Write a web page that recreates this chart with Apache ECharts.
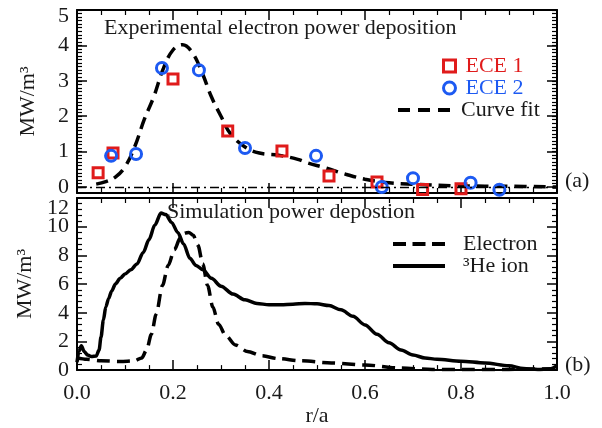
<!DOCTYPE html>
<html>
<head>
<meta charset="utf-8">
<script src="https://cdn.jsdelivr.net/npm/echarts@6/dist/echarts.min.js"></script>
<style>
  html, body { margin: 0; padding: 0; background: #fff; }
  #chart { width: 602px; height: 428px; }
</style>
</head>
<body>
<div id="chart"></div>
<script>
// (a) Measured electron power deposition, MW/m^3 vs r/a
const ece1R = [0.044, 0.075, 0.200, 0.314, 0.427, 0.525, 0.625, 0.720, 0.800];
const ece1P = [0.40, 0.96, 3.05, 1.58, 1.02, 0.31, 0.14, -0.07, -0.05];

const ece2R = [0.071, 0.123, 0.177, 0.254, 0.350, 0.498, 0.635, 0.700, 0.820, 0.880];
const ece2P = [0.88, 0.93, 3.36, 3.30, 1.10, 0.88, 0.00, 0.25, 0.12, -0.08];

const fitR = [0.04, 0.06, 0.08, 0.10, 0.12, 0.14, 0.16, 0.18, 0.20, 0.22, 0.24, 0.26, 0.28, 0.30,
              0.32, 0.35, 0.38, 0.42, 0.46, 0.48, 0.52, 0.56, 0.60, 0.65, 0.70, 0.80, 0.90, 1.00];
const fitP = [0.08, 0.15, 0.28, 0.57, 1.13, 1.90, 2.55, 3.35, 3.87, 4.02, 3.80, 3.25, 2.55, 2.00,
              1.50, 1.13, 0.96, 0.90, 0.78, 0.68, 0.53, 0.36, 0.22, 0.12, 0.08, 0.03, 0.02, 0.00];

// (b) Simulated power deposition
const elecR = [0.000, 0.020, 0.050, 0.090, 0.120, 0.135, 0.145, 0.155, 0.165, 0.178, 0.190, 0.203,
               0.215, 0.225, 0.233, 0.242, 0.252, 0.262, 0.272, 0.283, 0.295, 0.310, 0.330, 0.355,
               0.385, 0.420, 0.465, 0.530, 0.600, 0.670, 0.740, 0.820, 0.900, 1.000];
const elecP = [0.85, 0.75, 0.65, 0.60, 0.65, 0.85, 1.40, 2.50, 3.90, 5.90, 7.30, 8.40,
               9.20, 9.55, 9.60, 9.40, 8.70, 7.40, 5.90, 4.40, 3.20, 2.40, 1.75, 1.30,
               1.00, 0.80, 0.65, 0.50, 0.36, 0.15, 0.05, 0.05, 0.05, 0.10];

const ionR = [0.000, 0.004, 0.009, 0.015, 0.022, 0.030, 0.040, 0.046, 0.050, 0.055, 0.060, 0.066,
              0.072, 0.080, 0.090, 0.100, 0.112, 0.125, 0.138, 0.150, 0.162, 0.175, 0.185, 0.197,
              0.210, 0.222, 0.235, 0.248, 0.262, 0.280, 0.300, 0.325, 0.350, 0.375, 0.400, 0.425,
              0.450, 0.475, 0.500, 0.525, 0.550, 0.575, 0.600, 0.625, 0.650, 0.675, 0.700, 0.725,
              0.750, 0.800, 0.850, 0.900, 0.930, 0.960, 0.985, 1.000];
const ionP = [0.55, 1.30, 1.70, 1.30, 1.05, 0.95, 0.98, 1.40, 2.30, 3.50, 4.40, 5.00,
              5.50, 6.00, 6.40, 6.70, 7.00, 7.40, 8.20, 9.10, 10.10, 10.95, 10.85, 10.30,
              9.60, 8.80, 7.80, 7.30, 7.00, 6.40, 5.85, 5.30, 4.90, 4.65, 4.55, 4.55,
              4.60, 4.65, 4.62, 4.50, 4.20, 3.75, 3.15, 2.50, 1.90, 1.40, 1.05, 0.85,
              0.75, 0.62, 0.50, 0.30, 0.12, 0.05, 0.08, 0.30];

// Tick values
const yTicksA = [0, 1, 2, 3, 4, 5];
const yMinorA = [];
for (let i = 0; i <= 50; i++) yMinorA.push(+(i * 0.1).toFixed(1));

const seriesNames = ['ECE 1', 'ECE 2', 'Curve fit', 'Electron', '\u00b3He ion'];

const FONT = '"Liberation Serif", "Times New Roman", serif';
const INK = '#1a1a1a';
const RED = '#e01b1b';
const BLUE = '#1d5af2';
const FS = 22;

const zip = (xs, ys) => xs.map((x, i) => [x, ys[i]]);

const lineStyleAxis = { color: '#000', width: 2 };
const tickStyle = { color: '#000', width: 1.5 };
const minorStyle = { color: '#000', width: 1.2 };
const labelStyle = { fontFamily: FONT, fontSize: FS, color: INK };

function xAxisFor(grid, pos, labels) {
  return {
    type: 'value', gridIndex: grid, position: pos, min: 0, max: 1, interval: 0.2,
    axisLine: { show: true, onZero: false, lineStyle: lineStyleAxis },
    axisTick: { show: true, inside: true, length: 10, lineStyle: tickStyle },
    minorTick: { show: true, splitNumber: 4, length: 5, lineStyle: minorStyle },
    splitLine: { show: false },
    minorSplitLine: { show: false },
    axisLabel: labels
      ? Object.assign({ show: true, margin: 12, formatter: v => v.toFixed(1) }, labelStyle)
      : { show: false },
    name: labels ? 'r/a' : '',
    nameLocation: 'middle',
    nameGap: 19,
    nameTextStyle: labelStyle
  };
}

// Upper panel y axes: range starts slightly below zero, ticks placed explicitly
function yAxisA(pos, opts) {
  return Object.assign({
    type: 'value', gridIndex: 0, position: pos, min: -0.17, max: 5,
    axisLine: { show: false, onZero: false },
    axisTick: { show: false },
    splitLine: { show: false },
    axisLabel: { show: false }
  }, opts);
}

function yAxisB(pos, opts) {
  return Object.assign({
    type: 'value', gridIndex: 1, position: pos, min: 0, max: 12, interval: 2,
    axisLine: { show: false, onZero: false },
    axisTick: { show: false },
    minorTick: { show: false },
    splitLine: { show: false },
    minorSplitLine: { show: false },
    axisLabel: { show: false }
  }, opts);
}

const majorTickA = { show: true, inside: true, length: 10, lineStyle: tickStyle, customValues: yTicksA };
const minorTickA = { show: true, inside: true, length: 5, lineStyle: minorStyle, customValues: yMinorA };

const option = {
  animation: false,
  backgroundColor: '#fff',
  grid: [
    { left: 77, top: 10, width: 480, height: 183 },
    { left: 77, top: 198, width: 480, height: 180 }
  ],
  title: [
    { text: 'Experimental electron power deposition', left: 104, top: 17 },
    { text: 'Simulation power depostion', left: 167, top: 201 },
    { text: '(a)', left: 565, top: 170 },
    { text: '(b)', left: 565, top: 354 }
  ].map(t => Object.assign(t, {
    padding: 0,
    textStyle: { fontFamily: FONT, fontSize: FS, fontWeight: 'normal', color: INK }
  })),
  legend: [
    {
      data: [
        { name: seriesNames[0], icon: 'rect',
          itemStyle: { color: 'rgba(0,0,0,0)', borderColor: RED, borderWidth: 3 },
          textStyle: { color: RED } },
        { name: seriesNames[1], icon: 'circle',
          itemStyle: { color: 'rgba(0,0,0,0)', borderColor: BLUE, borderWidth: 3 },
          textStyle: { color: BLUE } }
      ],
      orient: 'vertical', left: 442, top: 55, itemWidth: 12, itemHeight: 12, itemGap: 0,
      padding: 0, selectedMode: false,
      textStyle: { fontFamily: FONT, fontSize: FS, padding: [0, 0, 0, 5] }
    },
    {
      data: [
        { name: seriesNames[2], icon: 'path://M0,0h12v4h-12z M20,0h12v4h-12z M40,0h12v4h-12z',
          itemStyle: { color: '#000', borderWidth: 0 } }
      ],
      orient: 'vertical', left: 398, top: 99, itemWidth: 52, itemHeight: 4,
      padding: 0, selectedMode: false,
      textStyle: { fontFamily: FONT, fontSize: FS, color: INK, padding: [0, 0, 0, 6] }
    },
    {
      data: [
        { name: seriesNames[3], icon: 'path://M0,0h13v4h-13z M19.5,0h13v4h-13z M39,0h13v4h-13z',
          itemStyle: { color: '#000', borderWidth: 0 } },
        { name: seriesNames[4], icon: 'rect',
          itemStyle: { color: '#000', borderWidth: 0 } }
      ],
      orient: 'vertical', left: 393, top: 233, itemWidth: 52, itemHeight: 4, itemGap: 0,
      padding: 0, selectedMode: false,
      textStyle: { fontFamily: FONT, fontSize: FS, color: INK, padding: [0, 0, 0, 13] }
    }
  ],
  xAxis: [
    xAxisFor(0, 'bottom', false),
    xAxisFor(0, 'top', false),
    xAxisFor(1, 'bottom', true),
    xAxisFor(1, 'top', false)
  ],
  yAxis: [
    // upper panel, left frame with major ticks, labels and name
    yAxisA('left', {
      axisLine: { show: true, onZero: false, lineStyle: lineStyleAxis },
      axisTick: majorTickA,
      axisLabel: Object.assign({ show: true, margin: 8, customValues: [0, 1, 2, 3, 4] }, labelStyle),
      name: 'MW/m\u00b3', nameLocation: 'middle', nameGap: 38, nameTextStyle: labelStyle
    }),
    yAxisA('left', { axisTick: minorTickA }),
    // top label sits just inside the frame
    yAxisA('left', {
      axisLabel: Object.assign({ show: true, margin: 8, customValues: [5],
        verticalAlign: 'top', lineHeight: 12 }, labelStyle)
    }),
    yAxisA('right', {
      axisLine: { show: true, onZero: false, lineStyle: lineStyleAxis },
      axisTick: majorTickA
    }),
    yAxisA('right', { axisTick: minorTickA }),
    // lower panel, left frame, ticks and inner labels
    yAxisB('left', {
      axisLine: { show: true, onZero: false, lineStyle: lineStyleAxis },
      axisTick: { show: true, inside: true, length: 10, lineStyle: tickStyle },
      minorTick: { show: true, splitNumber: 5, length: 5, lineStyle: minorStyle },
      axisLabel: Object.assign({ show: true, margin: 8,
        formatter: v => (v === 0 || v === 12) ? '' : String(v) }, labelStyle),
      name: 'MW/m\u00b3', nameLocation: 'middle', nameGap: 38, nameTextStyle: labelStyle
    }),
    // end labels kept inside the frame
    yAxisB('left', {
      axisLabel: Object.assign({ show: true, margin: 8, customValues: [12],
        verticalAlign: 'top', lineHeight: 20 }, labelStyle)
    }),
    yAxisB('left', {
      axisLabel: Object.assign({ show: true, margin: 8, customValues: [0],
        padding: [0, 0, 5, 0] }, labelStyle)
    }),
    yAxisB('right', {
      axisLine: { show: true, onZero: false, lineStyle: lineStyleAxis },
      axisTick: { show: true, inside: true, length: 10, lineStyle: tickStyle },
      minorTick: { show: true, splitNumber: 5, length: 5, lineStyle: minorStyle }
    })
  ],
  series: [
    {
      name: seriesNames[2], type: 'line', xAxisIndex: 0, yAxisIndex: 0,
      data: zip(fitR, fitP), smooth: 0.4, symbol: 'none', z: 2,
      lineStyle: { color: '#000', width: 3.5, type: [12, 7] },
      itemStyle: { color: '#000' },
      markLine: {
        silent: true, symbol: 'none', label: { show: false },
        lineStyle: { color: '#000', width: 1.3, type: [9, 4, 2, 4] },
        data: [{ yAxis: 0 }]
      }
    },
    {
      name: seriesNames[0], type: 'scatter', xAxisIndex: 0, yAxisIndex: 0,
      data: zip(ece1R, ece1P), symbol: 'rect', symbolSize: 10, z: 3,
      itemStyle: { color: 'rgba(0,0,0,0)', borderColor: RED, borderWidth: 3, opacity: 1 }
    },
    {
      name: seriesNames[1], type: 'scatter', xAxisIndex: 0, yAxisIndex: 0,
      data: zip(ece2R, ece2P), symbol: 'circle', symbolSize: 11, z: 3,
      itemStyle: { color: 'rgba(0,0,0,0)', borderColor: BLUE, borderWidth: 3, opacity: 1 }
    },
    {
      name: seriesNames[3], type: 'line', xAxisIndex: 2, yAxisIndex: 5,
      data: zip(elecR, elecP), smooth: 0.3, smoothMonotone: 'x', symbol: 'none',
      lineStyle: { color: '#000', width: 3.5, type: [13, 7] },
      itemStyle: { color: '#000' }
    },
    {
      name: seriesNames[4], type: 'line', xAxisIndex: 2, yAxisIndex: 5,
      data: zip(ionR, ionP), smooth: 0.3, smoothMonotone: 'x', symbol: 'none',
      lineStyle: { color: '#000', width: 3.5 },
      itemStyle: { color: '#000' }
    }
  ]
};

const chart = echarts.init(document.getElementById('chart'), null, { renderer: 'canvas' });
chart.setOption(option);
</script>
</body>
</html>
